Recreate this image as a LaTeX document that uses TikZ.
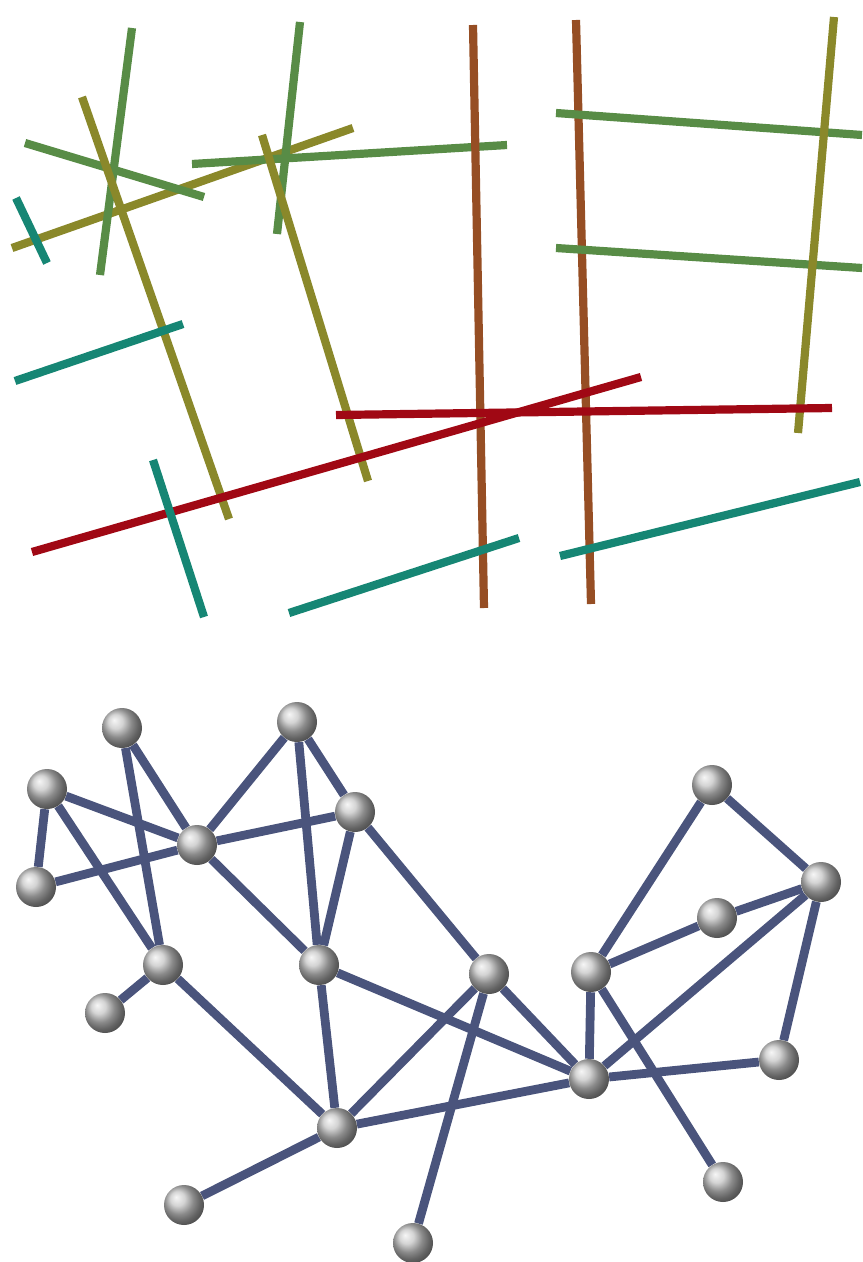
\documentclass[tikz,border=0pt]{standalone}
\usepackage{tikz}
\usetikzlibrary{backgrounds}
\definecolor{stickGreen}{RGB}{88,140,70}
\definecolor{stickOlive}{RGB}{138,136,42}
\definecolor{stickTeal}{RGB}{22,134,116}
\definecolor{stickBrown}{RGB}{150,78,36}
\definecolor{stickRed}{RGB}{160,8,20}
\definecolor{edgeSlate}{RGB}{74,84,124}

\begin{document}
\begin{tikzpicture}[x=0.03cm, y=-0.03cm,
    stick/.style={line width=7pt},
    ball/.style={circle, shading=ball, ball color=gray!45, minimum size=1.2cm, inner sep=0pt},
    link/.style={edgeSlate, line width=7.5pt}]
  \useasboundingbox (0,0) rectangle (862,1262);

  % upper half: coloured sticks
  \draw[stick, stickOlive] (12,248) -- (353,128);
  \draw[stick, stickGreen] (132,28) -- (100,275);
  \draw[stick, stickGreen] (25,143) -- (204,197);
  \draw[stick, stickOlive] (82,97) -- (229,519);
  \draw[stick, stickTeal] (16,198) -- (47,263);
  \draw[stick, stickGreen] (192,164) -- (507,145);
  \draw[stick, stickGreen] (300,22) -- (277,234);
  \draw[stick, stickOlive] (262,135) -- (368,481);
  \draw[stick, stickBrown] (473,25) -- (484,608);
  \draw[stick, stickBrown] (576,20) -- (591,604);
  \draw[stick, stickGreen] (556,113) -- (862,135);
  \draw[stick, stickGreen] (556,248) -- (862,268);
  \draw[stick, stickOlive] (834,17) -- (798,433);
  \draw[stick, stickTeal] (15,381) -- (183,324);
  \draw[stick, stickRed] (32,552) -- (641,377);
  \draw[stick, stickRed] (336,415) -- (832,408);
  \draw[stick, stickTeal] (153,460) -- (204,617);
  \draw[stick, stickTeal] (289,613) -- (519,538);
  \draw[stick, stickTeal] (560,556) -- (860,482);

  % lower half: ball-and-stick graph
  \node[ball] (a) at (122,728) {};
  \node[ball] (b) at (297,722) {};
  \node[ball] (c) at (47,789) {};
  \node[ball] (d) at (197,845) {};
  \node[ball] (e) at (355,812) {};
  \node[ball] (f) at (36,887) {};
  \node[ball] (g) at (163,965) {};
  \node[ball] (h) at (319,965) {};
  \node[ball] (i) at (105,1013) {};
  \node[ball] (j) at (337,1128) {};
  \node[ball] (k) at (184,1205) {};
  \node[ball] (l) at (413,1243) {};
  \node[ball] (m) at (489,974) {};
  \node[ball] (n) at (591,972) {};
  \node[ball] (o) at (589,1079) {};
  \node[ball] (p) at (779,1060) {};
  \node[ball] (q) at (723,1182) {};
  \node[ball] (r) at (712,785) {};
  \node[ball] (s) at (821,882) {};
  \node[ball] (t) at (717,918) {};

  \begin{scope}[on background layer]
    \draw[link] (a) -- (d);
    \draw[link] (a) -- (g);
    \draw[link] (c) -- (d);
    \draw[link] (c) -- (f);
    \draw[link] (c) -- (g);
    \draw[link] (f) -- (d);
    \draw[link] (b) -- (d);
    \draw[link] (b) -- (h);
    \draw[link] (b) -- (e);
    \draw[link] (d) -- (e);
    \draw[link] (e) -- (h);
    \draw[link] (d) -- (h);
    \draw[link] (e) -- (m);
    \draw[link] (g) -- (i);
    \draw[link] (g) -- (j);
    \draw[link] (h) -- (j);
    \draw[link] (h) -- (o);
    \draw[link] (j) -- (k);
    \draw[link] (j) -- (m);
    \draw[link] (j) -- (o);
    \draw[link] (m) -- (l);
    \draw[link] (m) -- (o);
    \draw[link] (n) -- (o);
    \draw[link] (n) -- (r);
    \draw[link] (n) -- (t);
    \draw[link] (n) -- (q);
    \draw[link] (o) -- (s);
    \draw[link] (o) -- (p);
    \draw[link] (p) -- (s);
    \draw[link] (t) -- (s);
    \draw[link] (r) -- (s);
  \end{scope}
\end{tikzpicture}
\end{document}
